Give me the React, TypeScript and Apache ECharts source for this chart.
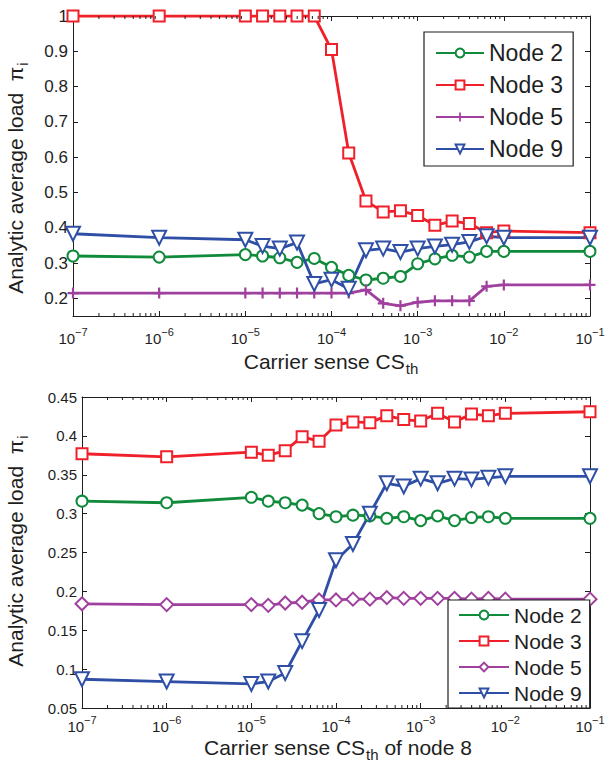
import React, { useEffect, useRef } from 'react';
import * as echarts from 'echarts';

// x positions (carrier sense threshold)
const xValues = [1e-7, 1e-6, 1e-5, 1.585e-5, 2.512e-5, 3.981e-5, 6.31e-5, 1e-4, 1.585e-4, 2.512e-4, 3.981e-4, 6.31e-4, 1e-3, 1.585e-3, 2.512e-3, 3.981e-3, 6.31e-3, 1e-2, 1e-1];

// top panel
const topNode2 = [0.32, 0.317, 0.324, 0.32, 0.315, 0.302, 0.313, 0.288, 0.265, 0.252, 0.257, 0.262, 0.298, 0.312, 0.322, 0.317, 0.333, 0.333, 0.333];
const topNode3 = [1.0, 1.0, 1.0, 1.0, 1.0, 1.0, 1.0, 0.905, 0.612, 0.476, 0.445, 0.448, 0.435, 0.407, 0.419, 0.412, 0.386, 0.391, 0.386];
const topNode5 = [0.215, 0.215, 0.215, 0.215, 0.215, 0.215, 0.215, 0.215, 0.215, 0.224, 0.186, 0.179, 0.189, 0.193, 0.193, 0.193, 0.234, 0.238, 0.238];
const topNode9 = [0.383, 0.372, 0.366, 0.348, 0.341, 0.358, 0.241, 0.253, 0.227, 0.336, 0.341, 0.331, 0.341, 0.347, 0.352, 0.36, 0.376, 0.372, 0.372];

// bottom panel
const botNode2 = [0.316, 0.314, 0.321, 0.316, 0.314, 0.311, 0.3, 0.296, 0.298, 0.297, 0.294, 0.296, 0.291, 0.297, 0.291, 0.295, 0.296, 0.294, 0.294];
const botNode3 = [0.377, 0.373, 0.379, 0.375, 0.381, 0.399, 0.393, 0.414, 0.418, 0.417, 0.426, 0.421, 0.419, 0.429, 0.418, 0.428, 0.426, 0.429, 0.431];
const botNode5 = [0.184, 0.183, 0.183, 0.182, 0.185, 0.186, 0.189, 0.189, 0.19, 0.19, 0.192, 0.191, 0.191, 0.191, 0.191, 0.19, 0.191, 0.19, 0.19];
const botNode9 = [0.087, 0.084, 0.081, 0.084, 0.095, 0.136, 0.176, 0.24, 0.261, 0.3, 0.339, 0.335, 0.345, 0.339, 0.345, 0.344, 0.346, 0.348, 0.348];

const legendNames = ['Node 2', 'Node 3', 'Node 5', 'Node 9'];
const topYTicks = [0.2, 0.3, 0.4, 0.5, 0.6, 0.7, 0.8, 0.9, 1];
const decadeExps = [-7, -6, -5, -4, -3, -2];
const minorMantissas = [2, 3, 4, 5, 6, 7, 8, 9];

const GREEN = '#108a3b';
const RED = '#f0202a';
const PURPLE = '#a0409e';
const BLUE = '#2e4fa5';
const INK = '#1e1e1e';
const FONT = '"Liberation Sans", Arial, Helvetica, sans-serif';
const PLUS = 'path://M4,0H6V4H10V6H6V10H4V6H0V4H4Z';

const minorTicks: number[] = [];
decadeExps.forEach((e) => minorMantissas.forEach((m) => minorTicks.push(m * Math.pow(10, e))));

const pairs = (ys: number[]) => xValues.map((x, i) => [x, ys[i]]);

function xLabelFormatter(v: number) {
  const e = Math.round(Math.log10(v));
  return `{b|10}{e|\u2212${-e}}`;
}

function logXAxis(gridIndex: number, position: 'bottom' | 'top', showLabel: boolean, margin: number) {
  return {
    type: 'log',
    logBase: 10,
    gridIndex,
    position,
    min: 1e-7,
    max: 1e-1,
    splitNumber: 6,
    axisLine: { show: true, onZero: false, lineStyle: { color: INK, width: 1 } },
    axisTick: { show: true, inside: true, length: 5, lineStyle: { color: INK, width: 1 } },
    splitLine: { show: false },
    minorTick: { show: false },
    axisLabel: {
      show: showLabel,
      margin,
      showMinLabel: true,
      showMaxLabel: true,
      formatter: xLabelFormatter,
      rich: {
        b: { fontSize: 15, lineHeight: 15, padding: [5, 0, 0, 0], verticalAlign: 'top', color: INK, fontFamily: FONT },
        e: { fontSize: 11, lineHeight: 11, verticalAlign: 'top', color: INK, fontFamily: FONT },
      },
    },
  };
}

function minorTickSeries(xAxisIndex: number, yAxisIndex: number, yMin: number) {
  return {
    type: 'custom',
    xAxisIndex,
    yAxisIndex,
    silent: true,
    clip: false,
    z: 10,
    data: minorTicks.map((v) => [v, yMin]),
    renderItem: (params: any, api: any) => {
      const x = api.coord([api.value(0), api.value(1)])[0];
      const cs = params.coordSys;
      const b = cs.y + cs.height;
      return {
        type: 'group',
        children: [
          { type: 'line', shape: { x1: x, y1: b, x2: x, y2: b - 3 }, style: { stroke: INK, lineWidth: 1 } },
          { type: 'line', shape: { x1: x, y1: cs.y, x2: x, y2: cs.y + 3 }, style: { stroke: INK, lineWidth: 1 } },
        ],
      };
    },
  };
}

function lineSeries(name: string, ys: number[], color: string, symbol: string, size: number, xi: number, yi: number, rotate = 0) {
  const empty = symbol.indexOf('empty') === 0;
  return {
    type: 'line',
    name,
    xAxisIndex: xi,
    yAxisIndex: yi,
    data: pairs(ys),
    symbol,
    symbolSize: size,
    symbolRotate: rotate,
    showAllSymbol: true,
    lineStyle: { color, width: 2.8 },
    itemStyle: empty ? { color, borderColor: color, borderWidth: 2.2 } : { color, borderWidth: 0 },
    z: 3,
  };
}

function legendBlock(left: number, top: number, fontSize: number, lineHeight: number, gap: number, itemWidth: number, itemHeight: number, padding: number[], prefix: string) {
  return {
    show: true,
    orient: 'vertical',
    left,
    top,
    data: legendNames.map((n) => prefix + n),
    formatter: (n: string) => n.replace(prefix, ''),
    itemWidth,
    itemHeight,
    itemGap: gap,
    padding,
    backgroundColor: '#fff',
    borderColor: INK,
    borderWidth: 1.2,
    selectedMode: false,
    textStyle: { fontSize, lineHeight, color: INK, fontFamily: FONT },
    z: 6,
  };
}

function titleText(text: string, x: number, y: number, rotation: number) {
  return {
    type: 'text',
    x,
    y,
    rotation,
    style: {
      text,
      align: 'center',
      verticalAlign: 'middle',
      fontFamily: FONT,
      fill: INK,
      rich: {
        a: { fontSize: 21, lineHeight: 22, verticalAlign: 'top', fontFamily: FONT, fill: INK },
        s: { fontSize: 15, lineHeight: 15, verticalAlign: 'top', padding: [10, 0, 0, 1], fontFamily: FONT, fill: INK },
      },
    },
  };
}

export default function App() {
  const ref = useRef<HTMLDivElement>(null);
  useEffect(() => {
    if (!ref.current) return;
    const chart = echarts.init(ref.current, null, { renderer: 'svg' });
    const botPrefix = '\u200b';
    chart.setOption({
      animation: false,
      backgroundColor: '#fff',
      textStyle: { fontFamily: FONT },
      grid: [
        { left: 73, top: 16, width: 517, height: 300, outerBoundsMode: 'none', containLabel: false },
        { left: 82, top: 397, width: 508, height: 311, outerBoundsMode: 'none', containLabel: false },
      ],
      xAxis: [
        logXAxis(0, 'bottom', true, 10),
        logXAxis(0, 'top', false, 6),
        logXAxis(1, 'bottom', true, 6),
        logXAxis(1, 'top', false, 6),
      ],
      yAxis: [
        {
          type: 'value', gridIndex: 0, position: 'left', min: 0.15, max: 1,
          axisLine: { show: true, onZero: false, lineStyle: { color: INK, width: 1 } },
          axisTick: { show: true, inside: true, length: 5, customValues: topYTicks, lineStyle: { color: INK } },
          splitLine: { show: false },
          axisLabel: { customValues: topYTicks, margin: 5, fontSize: 17, color: INK, fontFamily: FONT, formatter: (v: number) => String(parseFloat(v.toFixed(2))) },
        },
        {
          type: 'value', gridIndex: 0, position: 'right', min: 0.15, max: 1,
          axisLine: { show: true, onZero: false, lineStyle: { color: INK, width: 1 } },
          axisTick: { show: true, inside: true, length: 5, customValues: topYTicks, lineStyle: { color: INK } },
          splitLine: { show: false },
          axisLabel: { show: false, customValues: topYTicks },
        },
        {
          type: 'value', gridIndex: 1, position: 'left', min: 0.05, max: 0.45, interval: 0.05,
          axisLine: { show: true, onZero: false, lineStyle: { color: INK, width: 1 } },
          axisTick: { show: true, inside: true, length: 5, lineStyle: { color: INK } },
          splitLine: { show: false },
          axisLabel: { margin: 5, fontSize: 15, color: INK, fontFamily: FONT, showMinLabel: true, showMaxLabel: true, formatter: (v: number) => String(parseFloat(v.toFixed(2))) },
        },
        {
          type: 'value', gridIndex: 1, position: 'right', min: 0.05, max: 0.45, interval: 0.05,
          axisLine: { show: true, onZero: false, lineStyle: { color: INK, width: 1 } },
          axisTick: { show: true, inside: true, length: 5, lineStyle: { color: INK } },
          splitLine: { show: false },
          axisLabel: { show: false },
        },
      ],
      legend: [
        legendBlock(424, 32, 23, 26, 6, 48, 11, [8, 10, 4, 11], ''),
        legendBlock(448, 600, 21, 22, 4, 50, 11, [4, 8, 4, 10], botPrefix),
      ],
      series: [
        lineSeries('Node 2', topNode2, GREEN, 'emptyCircle', 11, 0, 0),
        lineSeries('Node 3', topNode3, RED, 'emptyRect', 11, 0, 0),
        lineSeries('Node 5', topNode5, PURPLE, PLUS, 11, 0, 0),
        lineSeries('Node 9', topNode9, BLUE, 'emptyTriangle', 14, 0, 0, 180),
        lineSeries(botPrefix + 'Node 2', botNode2, GREEN, 'emptyCircle', 11, 2, 2),
        lineSeries(botPrefix + 'Node 3', botNode3, RED, 'emptyRect', 11, 2, 2),
        lineSeries(botPrefix + 'Node 5', botNode5, PURPLE, 'emptyDiamond', 13, 2, 2),
        lineSeries(botPrefix + 'Node 9', botNode9, BLUE, 'emptyTriangle', 14, 2, 2, 180),
        minorTickSeries(0, 0, 0.15),
        minorTickSeries(2, 2, 0.05),
      ],
      graphic: [
        titleText('{a|Analytic average load  \u03c0}{s|i}', 16, 178, Math.PI / 2),
        titleText('{a|Carrier sense CS}{s|th}', 331, 362, 0),
        titleText('{a|Analytic average load  \u03c0}{s|i}', 16, 551, Math.PI / 2),
        titleText('{a|Carrier sense CS}{s|th}{a| of node 8}', 338, 748, 0),
      ],
    });
    return () => chart.dispose();
  }, []);
  return <div ref={ref} style={{ position: 'absolute', left: 0, top: 0, width: 606, height: 762, background: '#fff' }} />;
}
